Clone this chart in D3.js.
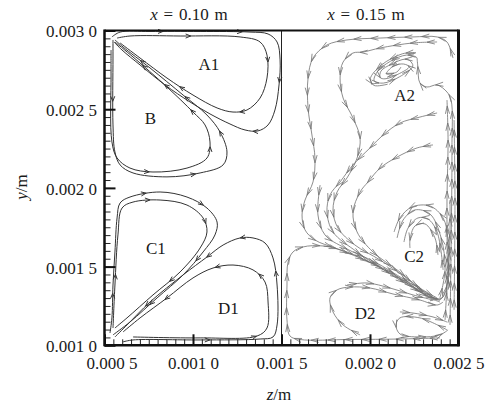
<!DOCTYPE html>
<html><head><meta charset="utf-8">
<script src="https://cdn.jsdelivr.net/npm/d3@7"></script>
<style>body{margin:0;background:#fff} svg{display:block} text{font-family:"Liberation Serif","Times New Roman",serif;fill:#1a1a1a}</style>
</head><body><svg id="c" width="496" height="405"></svg>
<script>
// ---- axis data (m) ----
const zTicks = [0.0005, 0.0010, 0.0015, 0.0020, 0.0025];
const zTickLabels = ["0.000 5", "0.001 0", "0.001 5", "0.002 0", "0.002 5"];
const yTicks = [0.0010, 0.0015, 0.0020, 0.0025, 0.0030];
const yTickLabels = ["0.001 0", "0.001 5", "0.002 0", "0.002 5", "0.003 0"];
const panelTitles = ["x = 0.10 m", "x = 0.15 m"];
const panelCenters = [0.00100, 0.00200];

// ---- streamlines, [z, y] in mm ----
// left panel, x = 0.10 m
const A1outer = [[0.542,2.959],[0.588,2.990],[0.757,2.994],[1.040,2.994],[1.322,2.990],[1.424,2.978],[1.475,2.927],[1.492,2.813],[1.486,2.654],[1.463,2.495],[1.424,2.400],[1.367,2.362],[1.294,2.368],[1.209,2.406],[1.096,2.470],[0.983,2.546],[0.842,2.654],[0.701,2.781],[0.599,2.876],[0.554,2.927]];
const A1inner = [[0.571,2.952],[0.644,2.965],[0.927,2.965],[1.266,2.959],[1.379,2.927],[1.418,2.844],[1.418,2.698],[1.379,2.571],[1.305,2.495],[1.226,2.482],[1.136,2.508],[1.000,2.590],[0.853,2.698],[0.701,2.825],[0.588,2.921]];
const Bouter = [[0.548,2.940],[0.548,2.825],[0.548,2.400],[0.559,2.228],[0.588,2.146],[0.661,2.095],[0.853,2.070],[1.040,2.095],[1.170,2.146],[1.192,2.228],[1.153,2.355],[1.079,2.463],[0.944,2.590],[0.757,2.762],[0.605,2.895],[0.559,2.940]];
const Binner = [[0.537,2.876],[0.537,2.717],[0.542,2.292],[0.571,2.190],[0.644,2.126],[0.774,2.101],[0.966,2.126],[1.079,2.190],[1.096,2.292],[1.068,2.400],[1.000,2.482],[0.853,2.641],[0.661,2.832],[0.559,2.927]];
const C1outer = [[0.531,1.078],[0.542,1.174],[0.548,1.383],[0.559,1.593],[0.571,1.809],[0.588,1.904],[0.644,1.942],[0.814,1.974],[0.966,1.942],[1.079,1.872],[1.136,1.783],[1.124,1.701],[1.057,1.593],[0.944,1.447],[0.797,1.301],[0.644,1.148],[0.548,1.066]];
const C1inner = [[0.548,1.110],[0.559,1.383],[0.576,1.701],[0.599,1.872],[0.661,1.910],[0.814,1.923],[0.966,1.891],[1.057,1.809],[1.079,1.720],[1.040,1.618],[0.927,1.466],[0.774,1.320],[0.627,1.174],[0.559,1.110]];
const D1outer = [[0.605,1.022],[0.661,1.034],[1.040,1.034],[1.379,1.040],[1.452,1.053],[1.475,1.129],[1.475,1.383],[1.452,1.555],[1.407,1.650],[1.339,1.682],[1.266,1.682],[1.170,1.637],[1.079,1.561],[0.944,1.447],[0.757,1.275],[0.627,1.129],[0.559,1.053]];
const D1inner = [[0.661,1.053],[1.040,1.047],[1.362,1.059],[1.418,1.110],[1.424,1.275],[1.407,1.402],[1.339,1.479],[1.226,1.510],[1.113,1.491],[1.000,1.428],[0.853,1.301],[0.701,1.174],[0.605,1.085]];
const leftLines = [A1outer, A1inner, Bouter, Binner, C1outer, C1inner, D1outer, D1inner];
const leftArrows = [[0.12,0.3,0.48,0.62,0.85],[0.2,0.45,0.62,0.8],[0.15,0.5,0.66,0.78,0.92],[0.4,0.6,0.72,0.9],[0.1,0.4,0.55,0.72,0.88],[0.15,0.42,0.6,0.8],[0.2,0.5,0.63,0.72,0.9],[0.35,0.55,0.68,0.85]];

// right panel, x = 0.15 m
const R1 = [[2.469,2.825],[2.435,2.927],[2.379,2.959],[2.243,2.959],[2.057,2.952],[1.870,2.940],[1.757,2.908],[1.678,2.825],[1.650,2.698],[1.650,2.508],[1.672,2.336],[1.689,2.190],[1.678,2.038],[1.633,1.923],[1.616,1.828],[1.633,1.733],[1.689,1.669],[1.802,1.618],[1.944,1.555],[2.113,1.466],[2.254,1.364],[2.350,1.301],[2.407,1.301],[2.435,1.383],[2.446,1.542],[2.452,1.733],[2.452,1.923]];
const R2 = [[2.379,2.927],[2.243,2.921],[2.057,2.889],[1.961,2.863],[1.904,2.857],[1.848,2.800],[1.831,2.698],[1.848,2.571],[1.904,2.444],[1.944,2.317],[1.927,2.190],[1.870,2.063],[1.814,1.974],[1.791,1.860],[1.819,1.745],[1.915,1.637],[2.057,1.542],[2.198,1.434],[2.311,1.332],[2.395,1.288]];
const R3 = [[2.379,2.476],[2.282,2.450],[2.169,2.412],[2.074,2.336],[2.000,2.254],[1.904,2.146],[1.831,2.038],[1.774,1.955],[1.757,1.847],[1.791,1.720],[1.927,1.593],[2.096,1.466],[2.243,1.364],[2.356,1.301],[2.395,1.288],[2.424,1.339]];
const R4 = [[2.356,2.273],[2.266,2.254],[2.153,2.196],[2.057,2.126],[1.989,2.038],[1.944,1.974],[1.904,1.847],[1.927,1.720],[2.017,1.593],[2.169,1.466],[2.282,1.364],[2.379,1.301]];
const R5 = [[2.395,1.047],[2.169,1.040],[1.887,1.037],[1.605,1.037],[1.548,1.059],[1.531,1.161],[1.531,1.383],[1.537,1.529],[1.565,1.593],[1.622,1.625],[1.735,1.631],[1.870,1.593],[2.028,1.510],[2.198,1.402],[2.328,1.307],[2.395,1.275]];
const R6 = [[1.718,2.018],[1.706,1.828],[1.746,1.701],[1.859,1.618],[2.028,1.529],[2.198,1.415],[2.339,1.320]];
const D2a = [[1.944,1.066],[1.848,1.129],[1.791,1.212],[1.774,1.301],[1.814,1.352],[1.887,1.370],[2.000,1.364],[2.130,1.326],[2.282,1.288],[2.379,1.256],[2.413,1.275]];
const D2b = [[1.870,1.383],[1.983,1.396],[2.113,1.364],[2.243,1.320],[2.356,1.288]];
const D2c = [[2.169,1.212],[2.243,1.205],[2.356,1.180],[2.435,1.148]];
const D2d = [[2.435,1.098],[2.282,1.174],[2.169,1.174],[2.147,1.129],[2.169,1.072],[2.282,1.053],[2.395,1.066],[2.441,1.098]];
const C2a = [[2.395,1.301],[2.424,1.479],[2.402,1.682],[2.339,1.834],[2.254,1.860],[2.187,1.796],[2.153,1.682]];
const C2b = [[2.413,1.479],[2.379,1.720],[2.328,1.802],[2.271,1.809],[2.215,1.745],[2.192,1.656]];
const C2c = [[2.384,1.574],[2.367,1.682],[2.311,1.771],[2.254,1.758],[2.226,1.669],[2.226,1.618]];
const C2d = [[2.441,1.352],[2.441,1.669],[2.413,1.809],[2.339,1.885],[2.237,1.879],[2.169,1.809],[2.136,1.720]];
const W1 = [[2.424,1.161],[2.435,1.415],[2.435,1.923],[2.441,2.304],[2.435,2.558]];
const W2 = [[2.452,1.129],[2.458,1.606],[2.463,2.241],[2.458,2.558],[2.435,2.609],[2.379,2.654],[2.322,2.641],[2.282,2.667],[2.271,2.762],[2.266,2.825]];
const W3 = [[2.475,1.225],[2.480,1.923],[2.475,2.431]];
const A2spiral = [[2.266,2.825],[2.260,2.832],[2.206,2.844],[2.116,2.805],[2.040,2.736],[2.024,2.679],[2.076,2.666],[2.167,2.706],[2.242,2.774],[2.224,2.809],[2.197,2.818],[2.124,2.788],[2.062,2.742],[2.058,2.701],[2.085,2.693],[2.158,2.722],[2.221,2.769],[2.190,2.787],[2.132,2.774],[2.092,2.724],[2.151,2.736],[2.175,2.768]];
const A2ring = [[2.259,2.860],[2.183,2.852],[2.065,2.781],[2.002,2.693],[2.023,2.651],[2.100,2.659]];
const rightLines = [R1, R2, R3, R4, R5, R6, D2a, D2b, D2c, D2d, C2a, C2b, C2c, C2d, W1, W2, W3, A2spiral, A2ring];

// region labels [name, z mm, y mm]
const regionNames = ["A1", "B", "C1", "D1", "A2", "C2", "D2"];
const regionZ = [1.090, 0.760, 0.790, 1.200, 2.196, 2.249, 1.972];
const regionY = [2.781, 2.438, 1.612, 1.231, 2.590, 1.561, 1.199];

// ---- drawing ----
const svg = d3.select("#c");
const x = d3.scaleLinear().domain([0.0005, 0.0025]).range([104.5, 458.5]);
const y = d3.scaleLinear().domain([0.0010, 0.0030]).range([345.3, 30.5]);
const X = d => x(d[0] * 1e-3), Y = d => y(d[1] * 1e-3);
const line = d3.line().x(X).y(Y).curve(d3.curveCatmullRom.alpha(0.5));

function chevron(g, node, L, total, size, half, color, w) {
  const p = node.getPointAtLength(L);
  const q = node.getPointAtLength(Math.min(L + 0.8, total));
  const p0 = node.getPointAtLength(Math.max(L - 0.8, 0));
  const a = Math.atan2(q.y - p0.y, q.x - p0.x);
  const b1 = a + Math.PI - half, b2 = a + Math.PI + half;
  g.append("path")
    .attr("d", `M${p.x + Math.cos(b1) * size},${p.y + Math.sin(b1) * size}L${p.x},${p.y}L${p.x + Math.cos(b2) * size},${p.y + Math.sin(b2) * size}`)
    .attr("fill", "none").attr("stroke", color).attr("stroke-width", w);
}

const gl = svg.append("g");
leftLines.forEach((pts, i) => {
  const p = gl.append("path").attr("d", line(pts)).attr("fill", "none")
    .attr("stroke", "#333").attr("stroke-width", 1);
  const node = p.node(), len = node.getTotalLength();
  leftArrows[i].forEach(f => chevron(gl, node, f * len, len, 5.5, 0.38, "#333", 1));
});

const gr = svg.append("g");
rightLines.forEach(pts => {
  const p = gr.append("path").attr("d", line(pts)).attr("fill", "none")
    .attr("stroke", "#707070").attr("stroke-width", 0.8);
  const node = p.node(), len = node.getTotalLength();
  for (let L = 10; L < len - 4; L += 17) chevron(gr, node, L, len, 8, 0.26, "#707070", 0.8);
});

// region labels
regionNames.forEach((n, i) => {
  svg.append("text").attr("x", x(regionZ[i] * 1e-3)).attr("y", y(regionY[i] * 1e-3))
    .attr("text-anchor", "middle").attr("dominant-baseline", "central")
    .attr("font-size", 17).text(n);
});

// divider
svg.append("line").attr("x1", x(0.0015)).attr("x2", x(0.0015)).attr("y1", y(0.003)).attr("y2", y(0.001))
  .attr("stroke", "#222").attr("stroke-width", 1);

// minor ticks
svg.append("g").attr("transform", `translate(${x(0.0005)},0)`)
  .call(d3.axisRight(y).tickValues(d3.range(41).map(i => 0.0010 + i * 0.00005)).tickSize(6).tickFormat(""))
  .call(g => g.select(".domain").remove())
  .call(g => g.selectAll("line").attr("stroke", "#222").attr("stroke-width", 1));
svg.append("g").attr("transform", `translate(0,${y(0.001)})`)
  .call(d3.axisTop(x).tickValues(d3.range(41).map(i => 0.0005 + i * 0.00005)).tickSize(6).tickFormat(""))
  .call(g => g.select(".domain").remove())
  .call(g => g.selectAll("line").attr("stroke", "#222").attr("stroke-width", 1));

// major ticks + labels
svg.append("g").attr("transform", `translate(${x(0.0005)},0)`)
  .call(d3.axisLeft(y).tickValues(yTicks).tickSize(-11).tickPadding(7.5).tickFormat((d, i) => yTickLabels[i]))
  .call(g => g.select(".domain").remove())
  .call(g => g.selectAll("line").attr("stroke", "#111").attr("stroke-width", 2))
  .call(g => g.selectAll("text").attr("font-size", 17).attr("font-family", "Liberation Serif").attr("fill", "#222").attr("dy", "0.38em"));
svg.append("g").attr("transform", `translate(0,${y(0.001)})`)
  .call(d3.axisBottom(x).tickValues(zTicks).tickSize(-11).tickPadding(24).tickFormat((d, i) => zTickLabels[i]))
  .call(g => g.select(".domain").remove())
  .call(g => g.selectAll("line").attr("stroke", "#111").attr("stroke-width", 2))
  .call(g => g.selectAll("text").attr("font-size", 17).attr("font-family", "Liberation Serif").attr("fill", "#222").attr("dy", "0"))
  .call(g => g.select(".tick text").attr("dx", 7));

// frame
const fx0 = x(0.0005), fx1 = x(0.0025), fy0 = y(0.003), fy1 = y(0.001);
svg.append("line").attr("x1", fx0).attr("x2", fx1).attr("y1", fy0).attr("y2", fy0).attr("stroke", "#111").attr("stroke-width", 2);
svg.append("line").attr("x1", fx0).attr("x2", fx1 + 1).attr("y1", fy1).attr("y2", fy1).attr("stroke", "#111").attr("stroke-width", 2.5);
svg.append("line").attr("x1", fx0).attr("x2", fx0).attr("y1", fy0 - 1).attr("y2", fy1 + 1).attr("stroke", "#111").attr("stroke-width", 2.5);
svg.append("line").attr("x1", fx1).attr("x2", fx1).attr("y1", fy0 - 1).attr("y2", fy1 + 1).attr("stroke", "#111").attr("stroke-width", 3);

// titles
panelTitles.forEach((t, i) => {
  const tx = svg.append("text").attr("x", x(panelCenters[i]) - 4).attr("y", 20).attr("text-anchor", "middle")
    .attr("font-size", 17).attr("word-spacing", 1.5);
  tx.append("tspan").attr("font-style", "italic").text(t.slice(0, 1));
  tx.append("tspan").text(t.slice(1));
});
const zt = svg.append("text").attr("x", 279).attr("y", 400).attr("text-anchor", "middle").attr("font-size", 17);
zt.append("tspan").attr("font-style", "italic").text("z");
zt.append("tspan").text("/m");
const yt = svg.append("text").attr("transform", "translate(27,187) rotate(-90)").attr("text-anchor", "middle").attr("font-size", 17);
yt.append("tspan").attr("font-style", "italic").text("y");
yt.append("tspan").text("/m");
</script></body></html>
